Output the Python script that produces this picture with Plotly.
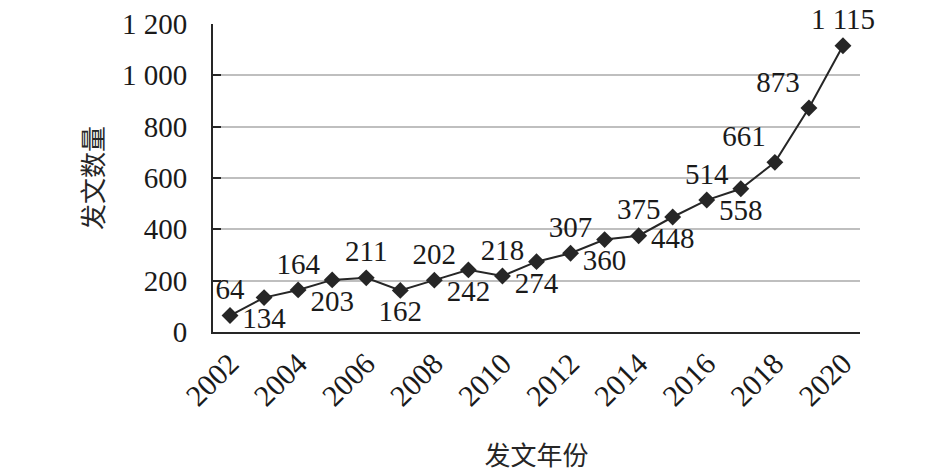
import plotly.graph_objects as go

years = [str(y) for y in range(2002, 2021)]
counts = [64, 134, 164, 203, 211, 162, 202, 242, 218, 274, 307, 360, 375, 448, 514, 558, 661, 873, 1115]
labels = ["64", "134", "164", "203", "211", "162", "202", "242", "218", "274", "307", "360",
          "375", "448", "514", "558", "661", "873", "1 115"]
label_pos = ["top center", "bottom center", "top center", "bottom center", "top center",
             "bottom center", "top center", "bottom center", "top center", "bottom center",
             "top center", "bottom center", "top center", "bottom center", "top center",
             "bottom center", "top left", "top left", "top center"]
y_ticks = [0, 200, 400, 600, 800, 1000, 1200]
y_ticktext = ["0", "200", "400", "600", "800", "1 000", "1 200"]
x_ticks = years[::2]

serif = "Liberation Serif"
cjk = "Noto Sans CJK SC"

fig = go.Figure()
fig.add_trace(go.Scatter(
    x=years, y=counts, mode="lines+markers+text",
    line=dict(color="#262626", width=2),
    marker=dict(symbol="diamond", size=13, color="#262626"),
    text=labels, textposition=label_pos,
    textfont=dict(family=serif, size=29, color="#1a1a1a"),
    cliponaxis=False, showlegend=False, hoverinfo="skip",
))

fig.update_layout(
    width=945, height=472,
    margin=dict(l=213, r=85, t=24, b=140, autoexpand=False),
    paper_bgcolor="white", plot_bgcolor="white",
    font=dict(family=serif, size=29, color="#1a1a1a"),
    xaxis=dict(
        type="category", range=[-0.5, 18.5], automargin=False,
        tickmode="array", tickvals=x_ticks, ticktext=x_ticks,
        tickangle=-45, showgrid=False, showline=True, linecolor="#262626", linewidth=2,
        ticks="", tickfont=dict(family=serif, size=30),
        title=dict(text="发文年份", font=dict(family=cjk, size=26, color="#262626"), standoff=38),
    ),
    yaxis=dict(
        range=[0, 1200], tickmode="array", tickvals=y_ticks, ticktext=y_ticktext,
        automargin=False,
        showgrid=True, gridcolor="#bfbfbf", gridwidth=1.5,
        showline=True, linecolor="#262626", linewidth=2,
        ticks="inside", ticklen=8, tickwidth=2, tickcolor="#262626",
        ticklabelstandoff=18, zeroline=False,
        tickfont=dict(family=serif, size=29),
        title=dict(text="发文数量", font=dict(family=cjk, size=26, color="#262626"), standoff=11),
    ),
)

fig.write_html("out.html", config={"displayModeBar": False},
               post_script="document.body.style.margin='0';")
